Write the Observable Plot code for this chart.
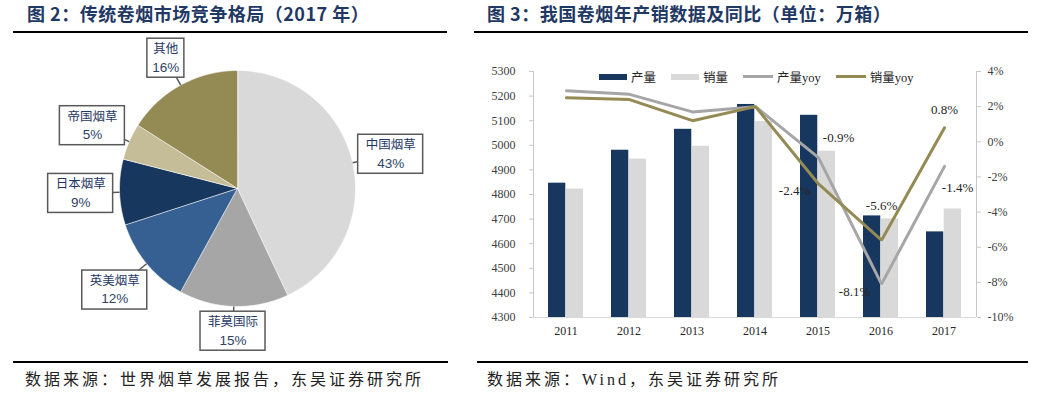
<!DOCTYPE html>
<html><head><meta charset="utf-8">
<script src="https://cdn.jsdelivr.net/npm/d3@7"></script>
<script src="https://cdn.jsdelivr.net/npm/@observablehq/plot@0.6"></script>
<style>
html,body{margin:0;padding:0;background:#fff;}
#root{position:relative;width:1042px;height:398px;overflow:hidden;font-family:"Liberation Serif","Noto Sans CJK SC",serif;}
.title{position:absolute;top:4px;line-height:18px;font-family:"Noto Sans CJK SC",sans-serif;font-weight:700;font-size:18px;letter-spacing:0.5px;color:#1f3864;white-space:nowrap}
.rule{position:absolute;height:2px;background:#000}
.foot{position:absolute;top:371px;line-height:17px;font-size:16px;letter-spacing:3px;color:#222;white-space:nowrap}
.abs{position:absolute}
.legend{position:absolute;left:599px;top:67px;display:flex;align-items:center;font-size:12.5px;color:#262626;white-space:nowrap}
.legend .item{display:flex;align-items:center;margin-right:15px}
.legend .sw{display:inline-block;margin-right:4px}
</style></head><body><div id="root"></div>
<script>
// ---------- data ----------
const shareNames = ["中国烟草", "菲莫国际", "英美烟草", "日本烟草", "帝国烟草", "其他"];
const shareValues = [43, 15, 12, 9, 5, 16];

const years = ["2011", "2012", "2013", "2014", "2015", "2016", "2017"];
const production = [4846, 4980, 5065, 5166, 5122, 4713, 4648];
const sales = [4822, 4944, 4996, 5097, 4976, 4701, 4741];
const productionYoy = [2.9, 2.7, 1.7, 2.0, -0.9, -8.1, -1.4];
const salesYoy = [2.5, 2.4, 1.2, 2.0, -2.4, -5.6, 0.8];

const volumeTicks = [4300, 4400, 4500, 4600, 4700, 4800, 4900, 5000, 5100, 5200, 5300];
const yoyTicks = [-10, -8, -6, -4, -2, 0, 2, 4];
const seriesNames = ["产量", "销量", "产量yoy", "销量yoy"];

// ---------- styles / layout ----------
const pieColors = ["#d9d9d9", "#a6a6a6", "#376092", "#17375e", "#c4bd97", "#948a54"];
const pieLabelRadius = [1.33, 1.21, 1.35, 1.33, 1.34, 1.26];
const seriesColors = ["#17375e", "#d9d9d9", "#a6a6a6", "#948a54"];
const yoyLabelLayout = [
  {series: 0, year: "2015", dx: 20, dy: -20},
  {series: 1, year: "2015", dx: -24, dy: 7},
  {series: 0, year: "2016", dx: -27, dy: 8},
  {series: 1, year: "2016", dx: 0, dy: -34},
  {series: 0, year: "2017", dx: 13, dy: 21},
  {series: 1, year: "2017", dx: 0, dy: -18}
];
const serif = '"Liberation Serif","Noto Sans CJK SC",serif';

const root = document.getElementById("root");
function add(html) { root.insertAdjacentHTML("beforeend", html); }

// titles, rules, footers
add('<div class="title" style="left:27px">图 2：传统卷烟市场竞争格局（2017 年）</div>');
add('<div class="title" style="left:487px">图 3：我国卷烟年产销数据及同比（单位：万箱）</div>');
add('<div class="rule" style="left:13px;width:434px;top:31px"></div>');
add('<div class="rule" style="left:474px;width:554px;top:31px"></div>');
add('<div class="rule" style="left:13px;width:435px;top:361px"></div>');
add('<div class="rule" style="left:477px;width:551px;top:361px"></div>');
add('<div class="foot" style="left:25px">数据来源：世界烟草发展报告，东吴证券研究所</div>');
add('<div class="foot" style="left:487px">数据来源：Wind，东吴证券研究所</div>');

// ---------- pie ----------
const pieW = 470, pieH = 320, pieCx = 237, pieCy = 152, pieR = 118;
const arcs = d3.pie().sort(null)(shareValues);
function slicePoints(a) {
  const n = Math.max(2, Math.ceil((a.endAngle - a.startAngle) / 0.02));
  const pts = [{x: 0, y: 0}];
  for (let k = 0; k <= n; k++) {
    const t = a.startAngle + (a.endAngle - a.startAngle) * k / n;
    pts.push({x: Math.sin(t), y: Math.cos(t)});
  }
  return pts;
}
const pieLabels = arcs.map(a => {
  const mid = (a.startAngle + a.endAngle) / 2;
  const lr = pieLabelRadius[a.index];
  const name = shareNames[a.index];
  const w = 14 * name.length + 9, h = 39;
  return {
    name, pct: shareValues[a.index] + "%", mid,
    ax: Math.sin(mid), ay: Math.cos(mid),
    bx: lr * Math.sin(mid), by: lr * Math.cos(mid),
    hw: w / 2 / pieR, hh: h / 2 / pieR
  };
});
const pie = Plot.plot({
  width: pieW, height: pieH,
  marginTop: 0, marginRight: 0, marginBottom: 0, marginLeft: 0,
  x: {domain: [-pieCx / pieR, (pieW - pieCx) / pieR], axis: null},
  y: {domain: [-(pieH - pieCy) / pieR, pieCy / pieR], axis: null},
  style: {background: "transparent", overflow: "visible"},
  marks: [
    ...arcs.map(a => Plot.line(slicePoints(a), {
      x: "x", y: "y", fill: pieColors[a.index], stroke: "#ffffff", strokeWidth: 0.6, curve: "linear-closed"
    })),
    Plot.link(pieLabels, {x1: "ax", y1: "ay", x2: "bx", y2: "by", stroke: "#595959", strokeWidth: 1.5}),
    Plot.rect(pieLabels, {
      x1: d => d.bx - d.hw, x2: d => d.bx + d.hw, y1: d => d.by - d.hh, y2: d => d.by + d.hh,
      fill: "#ffffff", stroke: "#595959", strokeWidth: 1.5
    }),
    Plot.text(pieLabels, {x: "bx", y: "by", text: "name", dy: -9, fontSize: 12.5, fill: "#1f3864",
      fontFamily: '"Noto Sans CJK SC",sans-serif'}),
    Plot.text(pieLabels, {x: "bx", y: "by", text: "pct", dy: 9, fontSize: 13.5, fill: "#2e4366",
      fontFamily: '"Liberation Sans",Arial,sans-serif'})
  ]
});
pie.style.position = "absolute"; pie.style.left = "0px"; pie.style.top = "36px";
root.appendChild(pie);

// ---------- combo chart ----------
const chartLeft = 480, chartTop = 50;
const cW = 540, cH = 300, mL = 53, mR = 44, mT = 21, mB = 33;
const bandStep = (cW - mL - mR) / years.length;
const bandW = bandStep * 0.56;
const xScale = {domain: years, paddingInner: 0.44, paddingOuter: 0.22, label: null};
const prodRows = years.map((y, i) => ({year: y, v: production[i]}));
const salesRows = years.map((y, i) => ({year: y, v: sales[i]}));
const prodYoyRows = years.map((y, i) => ({year: y, v: productionYoy[i]}));
const salesYoyRows = years.map((y, i) => ({year: y, v: salesYoy[i]}));
const yoySeries = [productionYoy, salesYoy];
const yoyLabels = yoyLabelLayout.map(l => {
  const v = yoySeries[l.series][years.indexOf(l.year)];
  return {year: l.year, v, dx: l.dx, dy: l.dy, text: v.toFixed(1) + "%"};
});

function edgeLine(side, color) {
  return (index, scales, values, dims) => {
    const x0 = dims.marginLeft, x1 = dims.width - dims.marginRight;
    const y0 = dims.marginTop, y1 = dims.height - dims.marginBottom;
    const l = d3.create("svg:line").attr("stroke", color).attr("stroke-width", 1);
    if (side === "left") l.attr("x1", x0 + 0.5).attr("x2", x0 + 0.5).attr("y1", y0).attr("y2", y1);
    if (side === "right") l.attr("x1", x1 + 0.5).attr("x2", x1 + 0.5).attr("y1", y0).attr("y2", y1);
    if (side === "bottom") l.attr("x1", x0).attr("x2", x1).attr("y1", y1 + 0.5).attr("y2", y1 + 0.5);
    return l.node();
  };
}

const bars = Plot.plot({
  width: cW, height: cH, marginLeft: mL, marginRight: mR, marginTop: mT, marginBottom: mB,
  x: xScale,
  y: {domain: [volumeTicks[0], volumeTicks[volumeTicks.length - 1]], label: null},
  style: {background: "transparent", fontFamily: serif, fontSize: "12px", color: "#404040", overflow: "visible"},
  marks: [
    Plot.barY(prodRows, {x: "year", y1: volumeTicks[0], y2: "v", fill: seriesColors[0], insetRight: bandW / 2}),
    Plot.barY(salesRows, {x: "year", y1: volumeTicks[0], y2: "v", fill: seriesColors[1], insetLeft: bandW / 2}),
    edgeLine("left", "#c8c8c8"),
    edgeLine("bottom", "#d9d9d9"),
    Plot.axisY({ticks: volumeTicks, tickFormat: d => String(d), tickSize: 4, tickPadding: 14,
      stroke: "#c8c8c8", fill: "#404040", label: null}),
    Plot.axisX({tickSize: 0, tickPadding: 9, fill: "#262626", label: null})
  ]
});
bars.style.position = "absolute"; bars.style.left = chartLeft + "px"; bars.style.top = chartTop + "px";
root.appendChild(bars);

const lines = Plot.plot({
  width: cW, height: cH, marginLeft: mL, marginRight: mR, marginTop: mT, marginBottom: mB,
  x: {...xScale, axis: null},
  y: {domain: [yoyTicks[0], yoyTicks[yoyTicks.length - 1]], label: null},
  style: {background: "transparent", fontFamily: serif, fontSize: "12px", color: "#404040", overflow: "visible"},
  marks: [
    edgeLine("right", "#c8c8c8"),
    Plot.axisY({anchor: "right", ticks: yoyTicks, tickFormat: d => d + "%", tickSize: 4, tickPadding: 7,
      stroke: "#c8c8c8", fill: "#404040", label: null}),
    Plot.line(prodYoyRows, {x: "year", y: "v", stroke: seriesColors[2], strokeWidth: 3, strokeLinejoin: "miter"}),
    Plot.line(salesYoyRows, {x: "year", y: "v", stroke: seriesColors[3], strokeWidth: 3, strokeLinejoin: "miter"}),
    ...yoyLabels.map(l => Plot.text([l], {x: "year", y: "v", text: "text", dx: l.dx, dy: l.dy, fontSize: 13, fill: "#262626"}))
  ]
});
lines.style.position = "absolute"; lines.style.left = chartLeft + "px"; lines.style.top = chartTop + "px";
root.appendChild(lines);

// legend
const legendItems = seriesNames.map((name, i) => {
  const sw = i < 2
    ? `<span class="sw" style="width:28px;height:6px;background:${seriesColors[i]}"></span>`
    : `<span class="sw" style="width:30px;height:3px;background:${seriesColors[i]}"></span>`;
  return `<span class="item">${sw}<span>${name}</span></span>`;
}).join("");
add(`<div class="legend">${legendItems}</div>`);
</script></body></html>
